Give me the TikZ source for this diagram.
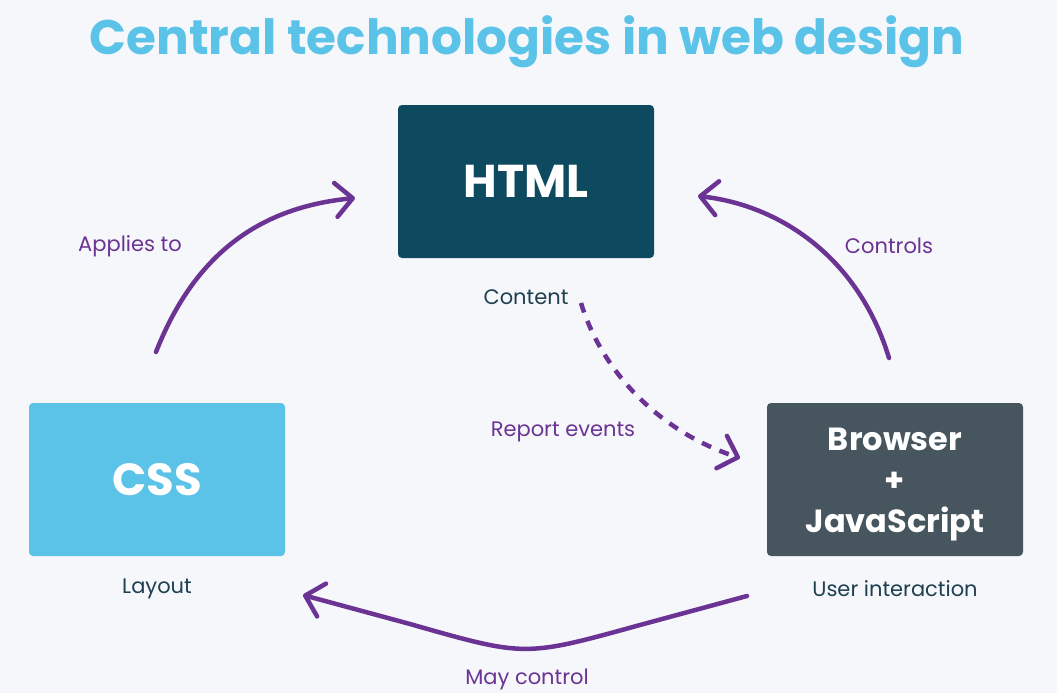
\documentclass[tikz,border=0pt]{standalone}
\usepackage{fontspec}
\setmainfont{Poppins}
\usetikzlibrary{arrows.meta}
\definecolor{bgpage}{HTML}{F6F7FA}
\definecolor{skyblue}{HTML}{5BC2E8}
\definecolor{deepteal}{HTML}{0E4A5F}
\definecolor{slategray}{HTML}{46555E}
\definecolor{linkpurple}{HTML}{6B3494}
\definecolor{captext}{HTML}{1E4050}

\begin{document}
\begin{tikzpicture}[x=1pt,y=-1pt,
  techbox/.style={rounded corners=4pt,minimum width=256pt,minimum height=153pt,
    text=white,inner sep=0pt,align=center},
  caption/.style={text=captext,font=\fontsize{21}{24}\selectfont},
  linklabel/.style={text=linkpurple,font=\fontsize{21}{24}\selectfont},
  link/.style={linkpurple,line width=4.5pt,line cap=round,
    -{Straight Barb[length=17pt,width=34pt,round]}}]
\useasboundingbox[fill=bgpage] (0,0) rectangle (1057,693);
\node (title) at (527,42) {\fontsize{48.5}{52}\selectfont\bfseries\color{skyblue}Central technologies in web design};
% boxes
\node[techbox,fill=deepteal,font=\fontsize{46}{50}\selectfont\bfseries] (html) at (526,181.5) {HTML};
\node[techbox,fill=skyblue,font=\fontsize{45}{50}\selectfont\bfseries] (css) at (157,479.5) {CSS};
\node[techbox,fill=slategray] (js) at (895,479.5) {};
\node[text=white,align=center,font=\fontsize{32}{41}\selectfont\bfseries] (jstext) at (895,485) {Browser\\+\\JavaScript};
\node[caption] (content) at (526,297) {Content};
\node[caption] (layout) at (157,589) {Layout};
\node[caption] (userint) at (895,589) {User interaction};
% arrow ends
\coordinate (applyA) at (156,352);
\coordinate (applyB) at (355,198);
\coordinate (ctrlA) at (889,358);
\coordinate (ctrlB) at (698,196);
\coordinate (eventA) at (581,303);
\coordinate (eventB) at (740,458);
\coordinate (mayA) at (747,596);
\coordinate (mayB) at (303,595);
\draw[link] (applyA) .. controls (200,240) and (275,206) .. (applyB);
\draw[link] (ctrlA) .. controls (860,262) and (785,206) .. (ctrlB);
\draw[link,dash pattern=on 10pt off 9pt,line cap=butt] (eventA) .. controls (602,372) and (660,432) .. (eventB);
\draw[link] (mayA) -- (640,625) .. controls (524,657) and (526,657) .. (410,624) -- (mayB);
\node[linklabel] (applies) at (130,246) {Applies to};
\node[linklabel] (controls) at (889,246) {Controls};
\node[linklabel] (report) at (563,432) {Report events};
\node[linklabel] (maycontrol) at (527,679) {May control};
\end{tikzpicture}
\end{document}
